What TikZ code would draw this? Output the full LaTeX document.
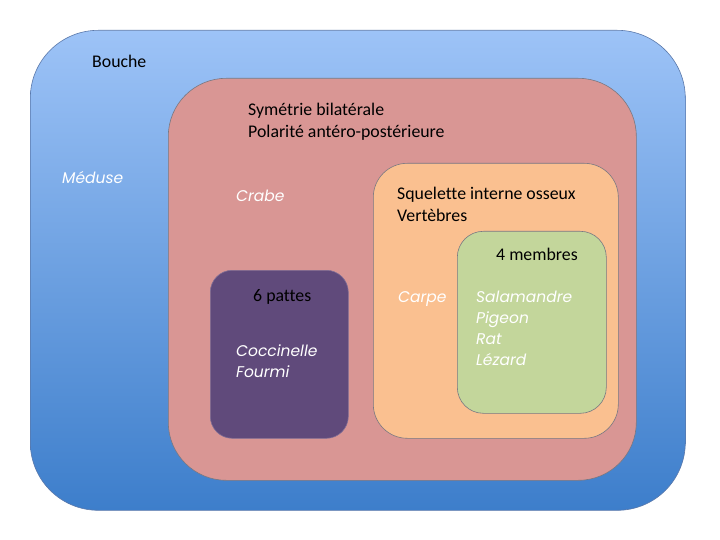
\documentclass[tikz,border=0pt]{standalone}
\usepackage{fontspec}
\setmainfont{Carlito}[Ligatures={NoCommon}]
\newfontfamily\handfont{Poppins}
\usepackage{xcolor}
\definecolor{bluetop}{RGB}{157,195,247}
\definecolor{bluebot}{RGB}{61,126,203}
\definecolor{blueline}{RGB}{90,120,170}
\definecolor{pinkbox}{RGB}{217,150,148}
\definecolor{orangebox}{RGB}{250,192,144}
\definecolor{greenbox}{RGB}{195,214,155}
\definecolor{purplebox}{RGB}{96,74,123}
\definecolor{greyline}{RGB}{120,120,130}
\usetikzlibrary{positioning}
\tikzset{
  setbox/.style={anchor=north west,inner sep=0pt,draw=greyline,line width=0.6pt},
  label/.style={anchor=north west,inner sep=0pt,align=left,font=\fontsize{17.8}{22}\selectfont},
  species/.style={label,text=white,font=\handfont\itshape\fontsize{15.5}{21}\selectfont}
}

\begin{document}
\begin{tikzpicture}[x=1pt,y=-1pt]
  \useasboundingbox (0,0) rectangle (720,540);
  \node[setbox,draw=blueline,top color=bluetop,bottom color=bluebot,rounded corners=68pt,minimum width=655pt,minimum height=480pt] (vertebrate) at (30,30) {};
  \node[setbox,fill=pinkbox,rounded corners=58pt,minimum width=468pt,minimum height=402pt] (bilateral) at (168,78) {};
  \node[setbox,fill=orangebox,rounded corners=34pt,minimum width=245pt,minimum height=275pt] (skeleton) at (373,163) {};
  \node[setbox,fill=greenbox,rounded corners=26pt,minimum width=149pt,minimum height=182pt] (limbs) at (457,231) {};
  \node[setbox,draw=purplebox!80!white,fill=purplebox,rounded corners=22pt,minimum width=138pt,minimum height=168pt] (insect) at (210,270) {};
  % text
  \node[label] (bouche) at (92,55) {Bouche};
  \node[label] (sym) at (248,103) {Symétrie bilatérale\\Polarité antéro-postérieure};
  \node[label] (sq) at (397,187) {Squelette interne osseux\\Vertèbres};
  \node[label] (membres) at (496,248) {4 membres};
  \node[label] (pattes) at (253,289) {6 pattes};
  \node[species] (meduse) at (62,171) {Méduse};
  \node[species] (crabe) at (236,190) {Crabe};
  \node[species] (carpe) at (398,291) {Carpe};
  \node[species] (tetrapods) at (476,291) {Salamandre\\Pigeon\\Rat\\Lézard};
  \node[species] (insects) at (236,345) {Coccinelle\\Fourmi};
\end{tikzpicture}
\end{document}
